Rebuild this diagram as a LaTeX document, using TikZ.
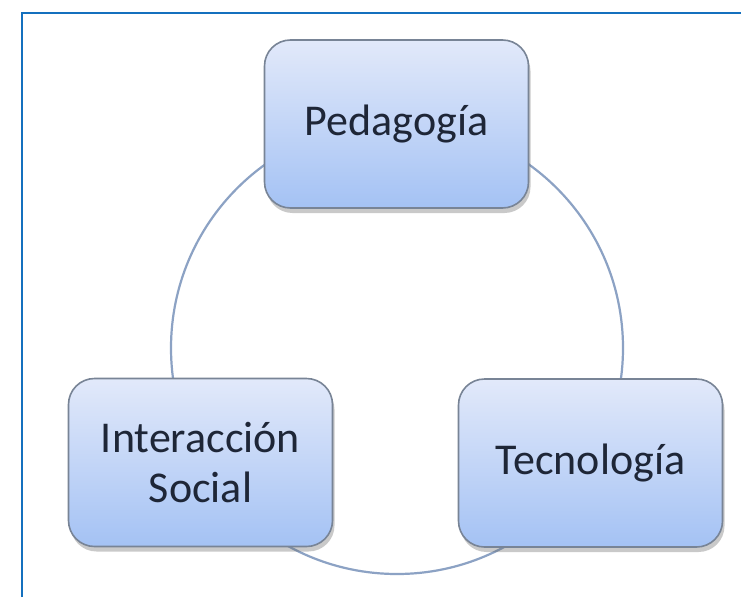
\documentclass[tikz,border=0pt]{standalone}
\usepackage{fontspec}
\setmainfont{Carlito}
\usetikzlibrary{shadows}
\definecolor{frameblue}{RGB}{20,112,190}
\definecolor{ringblue}{RGB}{140,162,196}
\definecolor{boxtop}{RGB}{226,233,250}
\definecolor{boxbot}{RGB}{164,194,244}
\definecolor{boxedge}{RGB}{120,132,150}
\definecolor{txt}{RGB}{30,38,55}
\tikzset{
  conceptbox/.style={draw=boxedge, line width=1.6pt, rounded corners=26pt,
    top color=boxtop, bottom color=boxbot, inner sep=0pt,
    minimum width=264pt, minimum height=168pt, align=center,
    text=txt, font=\fontsize{44}{50}\selectfont,
    drop shadow={shadow xshift=2pt, shadow yshift=-5pt, fill=black!60, opacity=0.35}},
  ring/.style={draw=ringblue, line width=2.2pt},
  framestyle/.style={draw=frameblue, line width=2.6pt}
}
\begin{document}
\begin{tikzpicture}[x=1pt,y=-1pt]
\useasboundingbox (0,0) rectangle (741,597);
\fill[white] (0,0) rectangle (741,597);
\coordinate (fa) at (22,597);
\coordinate (fb) at (22,13);
\coordinate (fc) at (741,13);
\draw[framestyle] (fa) -- (fb) -- (fc);
\coordinate (ctr) at (397,348);
\draw[ring] (ctr) circle[radius=226];
\node[conceptbox] (ped) at (396.5,124) {Pedagogía};
\node[conceptbox] (int) at (200.5,462.5) {Interacción\\Social};
\node[conceptbox] (tec) at (590.5,463) {Tecnología};
\end{tikzpicture}
\end{document}
